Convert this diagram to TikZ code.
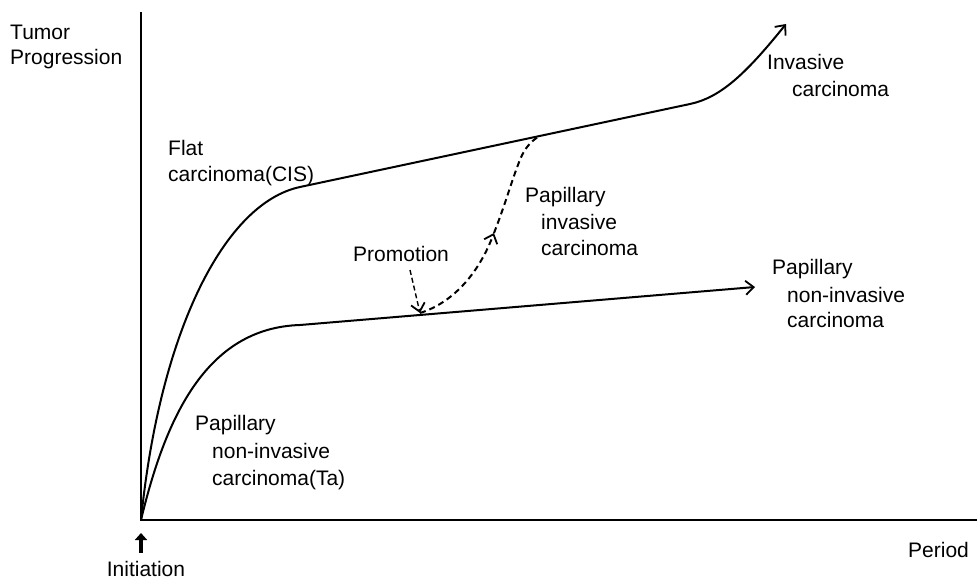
\documentclass[tikz,border=0pt]{standalone}
\usepackage{fontspec}
\setmainfont{Liberation Sans}
\usetikzlibrary{arrows.meta}
\begin{document}
\begin{tikzpicture}[x=1pt,y=-1pt,
  lbl/.style={anchor=base west,inner sep=0pt,font=\fontsize{21}{26}\selectfont},
  axisline/.style={line width=2.4pt},
  curveline/.style={line width=2pt,line cap=round,line join=round},
  dashline/.style={line width=2pt,dash pattern=on 6pt off 4pt},
  barbtip/.style={-{Straight Barb[length=8pt,width=14pt,line width=1.8pt]}},
  initarrow/.style={line width=3.2pt,-{Triangle[length=7pt,width=12pt]}}]
\useasboundingbox (0,0) rectangle (978,580);
% axes
\coordinate (O) at (141,520);
\coordinate (ytop) at (141,12);
\coordinate (xend) at (977,520);
\draw[axisline] (ytop) -- (O) -- (xend);
% upper curve: flat carcinoma -> invasive carcinoma
\coordinate (u1) at (300,187);
\coordinate (u2) at (690,104);
\coordinate (u3) at (786,24);
\draw[curveline,barbtip] (O) .. controls (160,330) and (225,203) .. (u1)
  -- (u2) .. controls (720,97.6) and (745,75) .. (u3);
% lower curve: papillary non-invasive
\coordinate (l1) at (300,325);
\coordinate (l2) at (755,287);
\draw[curveline,barbtip] (O) .. controls (165,420) and (205,328) .. (l1) -- (l2);
% dashed progression
\coordinate (p0) at (420,313);
\coordinate (pm) at (494,233);
\coordinate (p1) at (538,137);
\draw[dashline,barbtip] (p0) .. controls (452,303) and (478,275) .. (pm);
\draw[dashline] (pm) .. controls (505,205) and (512,180) .. (518,165)
  .. controls (523,150) and (530,142) .. (p1);
% promotion arrow
\node[lbl] (prom) at (353,262) {Promotion};
\coordinate (pa) at (410,270);
\draw[dashline,barbtip,dash pattern=on 5pt off 3pt,line width=1.4pt] (pa) -- (p0);
% initiation
\coordinate (ia) at (141,553);
\coordinate (ib) at (141,533);
\draw[initarrow] (ia) -- (ib);
\node[lbl,anchor=base] (init) at (146,576) {Initiation};
% labels
\node[lbl] (tum1) at (10,40) {Tumor};
\node[lbl] (tum2) at (10,65) {Progression};
\node[lbl] (per) at (908,557) {Period};
\node[lbl] (flat1) at (168,156) {Flat};
\node[lbl] (flat2) at (168,182) {carcinoma(CIS)};
\node[lbl] (inv1) at (767,70) {Invasive};
\node[lbl] (inv2) at (792,97) {carcinoma};
\node[lbl] (pi1) at (525,203) {Papillary};
\node[lbl] (pi2) at (541,230) {invasive};
\node[lbl] (pi3) at (541,256) {carcinoma};
\node[lbl] (pn1) at (772,275) {Papillary};
\node[lbl] (pn2) at (787,302) {non-invasive};
\node[lbl] (pn3) at (787,327) {carcinoma};
\node[lbl] (ta1) at (195,430) {Papillary};
\node[lbl] (ta2) at (212,458) {non-invasive};
\node[lbl] (ta3) at (212,485) {carcinoma(Ta)};
\end{tikzpicture}
\end{document}
